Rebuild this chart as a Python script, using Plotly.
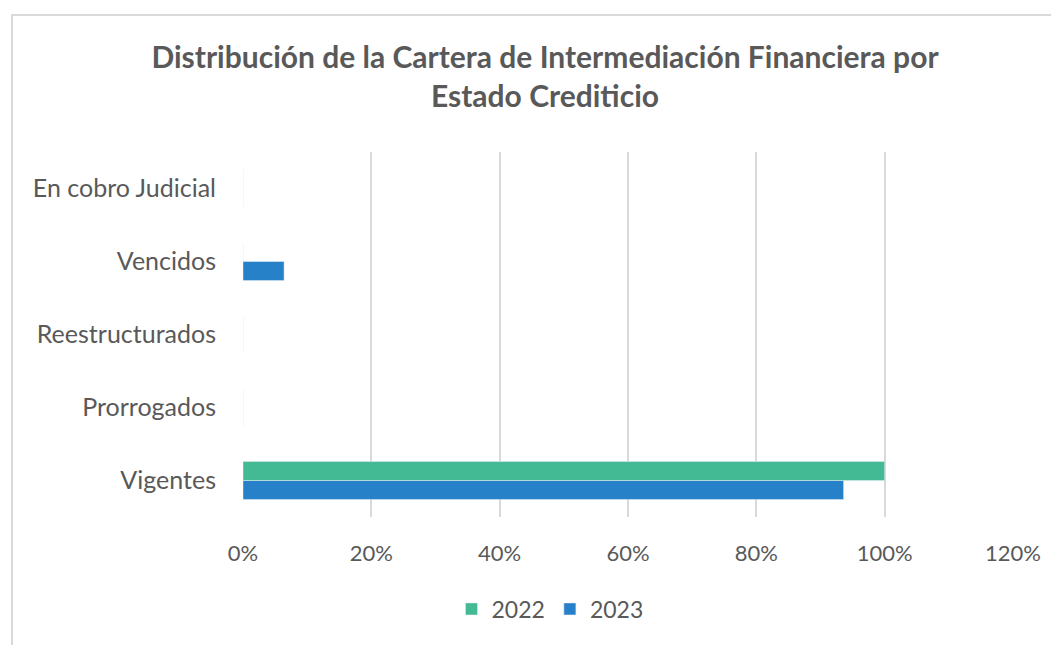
import plotly.graph_objects as go

categories = ["Vigentes", "Prorrogados", "Reestructurados", "Vencidos", "En cobro Judicial"]
values_2022 = [1.00, 0.0, 0.0, 0.0, 0.0]
values_2023 = [0.936, 0.0, 0.0, 0.064, 0.0]
tick_vals = [0, 0.2, 0.4, 0.6, 0.8, 1.0, 1.2]
tick_text = ["0%", "20%", "40%", "60%", "80%", "100%", "120%"]

C2022 = "#43B994"
C2023 = "#2681C8"
FONT = "Lato"
GREY = "#595959"

OFF = 8  # page body margin
W, H = 1059 - OFF, 645 - OFF
L, R, T, B = 243 - OFF, 1013 - OFF, 152 - OFF, 517 - OFF

fig = go.Figure()
fig.add_trace(go.Bar(y=categories, x=values_2023, name="2023", orientation="h",
                     marker=dict(color=C2023), legendrank=2))
fig.add_trace(go.Bar(y=categories, x=values_2022, name="2022", orientation="h",
                     marker=dict(color=C2022), legendrank=1))

def px2paper_x(px):
    return (px - OFF - L) / (R - L)

def px2paper_y(py):
    return (B - (py - OFF)) / (B - T)

fig.update_layout(
    width=W, height=H,
    margin=dict(l=L, r=W - R, t=T, b=H - B),
    paper_bgcolor="white", plot_bgcolor="white",
    barmode="group", bargap=0.48, bargroupgap=0,
    font=dict(family=FONT, color=GREY, size=22),
    title=dict(text="Distribución de la Cartera de Intermediación Financiera por<br>Estado Crediticio",
               x=(545 - OFF) / W, xanchor="center", xref="container",
               y=1 - (68 - OFF) / H, yanchor="middle", yref="container",
               font=dict(family=FONT, size=30, color=GREY, weight="bold")),
    xaxis=dict(range=[0, 1.2], tickvals=tick_vals, ticktext=tick_text,
               showgrid=True, gridcolor="#D9D9D9", gridwidth=2,
               zeroline=False, showline=False, ticks="", ticklabelstandoff=21,
               tickfont=dict(size=22, color=GREY)),
    yaxis=dict(categoryorder="array", categoryarray=categories,
               showgrid=False, zeroline=False, showline=False, ticks="",
               ticklabelstandoff=26, tickfont=dict(size=25, color=GREY)),
    legend=dict(orientation="h", x=(550 - OFF) / W, xanchor="center", xref="container",
                y=1 - (609 - OFF) / H, yanchor="middle", yref="container",
                font=dict(size=23, color=GREY), itemwidth=30, traceorder="normal"),
    shapes=[dict(type="rect", xref="paper", yref="paper",
                 x0=px2paper_x(12), x1=px2paper_x(1200),
                 y0=px2paper_y(900), y1=px2paper_y(15),
                 line=dict(color="#D9D9D9", width=2), layer="below")],
)

fig.write_html("out.html")
